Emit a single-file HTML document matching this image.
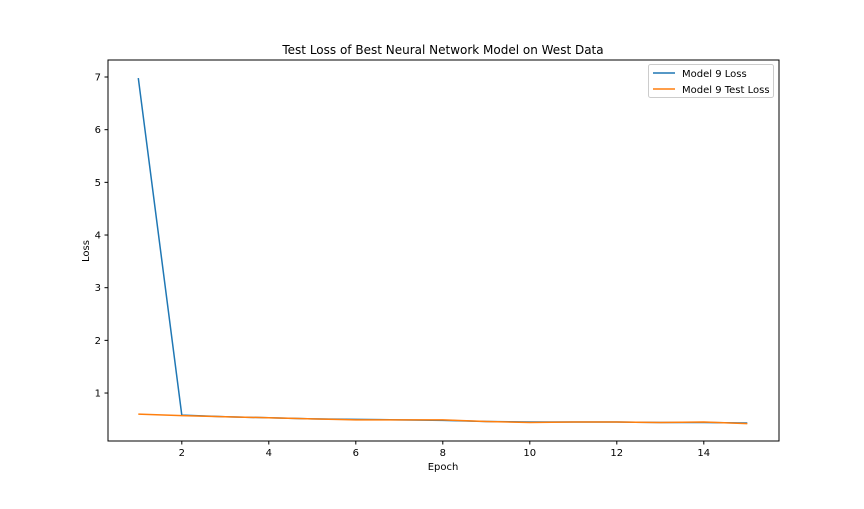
<!DOCTYPE html>
<html><head><meta charset="utf-8"><style>
body{margin:0;background:#fff;}
svg text{font-family:"DejaVu Sans","Liberation Sans",sans-serif;fill:#000;}
</style></head><body>
<svg id="chart" width="864" height="504">
<rect x="0" y="0" width="864" height="504" fill="#fff"/>
<text x="443" y="54" font-size="12" text-anchor="middle">Test Loss of Best Neural Network Model on West Data</text>
<text x="443" y="470" font-size="10" text-anchor="middle">Epoch</text>
<text x="0" y="0" font-size="10" text-anchor="middle" transform="translate(89,251) rotate(-90)">Loss</text>
<g id="ticks"></g>
<g id="lines"></g>
<rect x="108" y="60" width="671" height="381" fill="none" stroke="#000" stroke-width="1"/>
<g>
<rect x="648.5" y="64.5" width="125" height="33" fill="#fff" stroke="#ccc" rx="2"/>
<line x1="653" y1="73" x2="675" y2="73" stroke="#1f77b4" stroke-width="1.5"/>
<text x="682" y="77" font-size="10">Model 9 Loss</text>
<line x1="653" y1="89" x2="675" y2="89" stroke="#ff7f0e" stroke-width="1.5"/>
<text x="682" y="93" font-size="10">Model 9 Test Loss</text>
</g>
</svg>
<script>
const epochs=[1,2,3,4,5,6,7,8,9,10,11,12,13,14,15];
const lossValues=[6.98,0.58,0.55,0.53,0.51,0.50,0.49,0.48,0.46,0.45,0.45,0.45,0.44,0.44,0.43];
const testLossValues=[0.60,0.57,0.55,0.53,0.51,0.49,0.49,0.49,0.46,0.44,0.45,0.45,0.44,0.45,0.42];
const xTicks=[2,4,6,8,10,12,14];
const yTicks=[1,2,3,4,5,6,7];
const NS="http://www.w3.org/2000/svg";
function xs(v){return 138.3+(v-1)*43.5;}
function ys(v){return 445.7-v*52.67;}
const tg=document.getElementById('ticks');
xTicks.forEach(t=>{
 const l=document.createElementNS(NS,'line');
 l.setAttribute('x1',xs(t));l.setAttribute('x2',xs(t));l.setAttribute('y1',441);l.setAttribute('y2',444.5);l.setAttribute('stroke','#000');
 
 
 tg.appendChild(l);
 const tx=document.createElementNS(NS,'text');
 tx.setAttribute('x',xs(t));tx.setAttribute('y',456);tx.setAttribute('font-size','10');tx.setAttribute('text-anchor','middle');tx.textContent=t;
 
 
 tg.appendChild(tx);
});
yTicks.forEach(t=>{
 const l=document.createElementNS(NS,'line');
 l.setAttribute('x1',104.5);l.setAttribute('x2',108);l.setAttribute('y1',ys(t));l.setAttribute('y2',ys(t));l.setAttribute('stroke','#000');
 
 
 tg.appendChild(l);
 const tx=document.createElementNS(NS,'text');
 tx.setAttribute('x',101);tx.setAttribute('y',ys(t)+3.5);tx.setAttribute('font-size','10');tx.setAttribute('text-anchor','end');tx.textContent=t;
 
 
 tg.appendChild(tx);
});
const lg=document.getElementById('lines');
function drawLine(vals,color,name){
 const p=document.createElementNS(NS,'polyline');
 p.setAttribute('points',vals.map((v,i)=>xs(epochs[i])+','+ys(v)).join(' '));
 p.setAttribute('fill','none');p.setAttribute('stroke',color);p.setAttribute('stroke-width','1.5');
 
 
 lg.appendChild(p);
}
drawLine(lossValues,'#1f77b4','loss-line');
drawLine(testLossValues,'#ff7f0e','test-loss-line');
</script>
</body></html>
